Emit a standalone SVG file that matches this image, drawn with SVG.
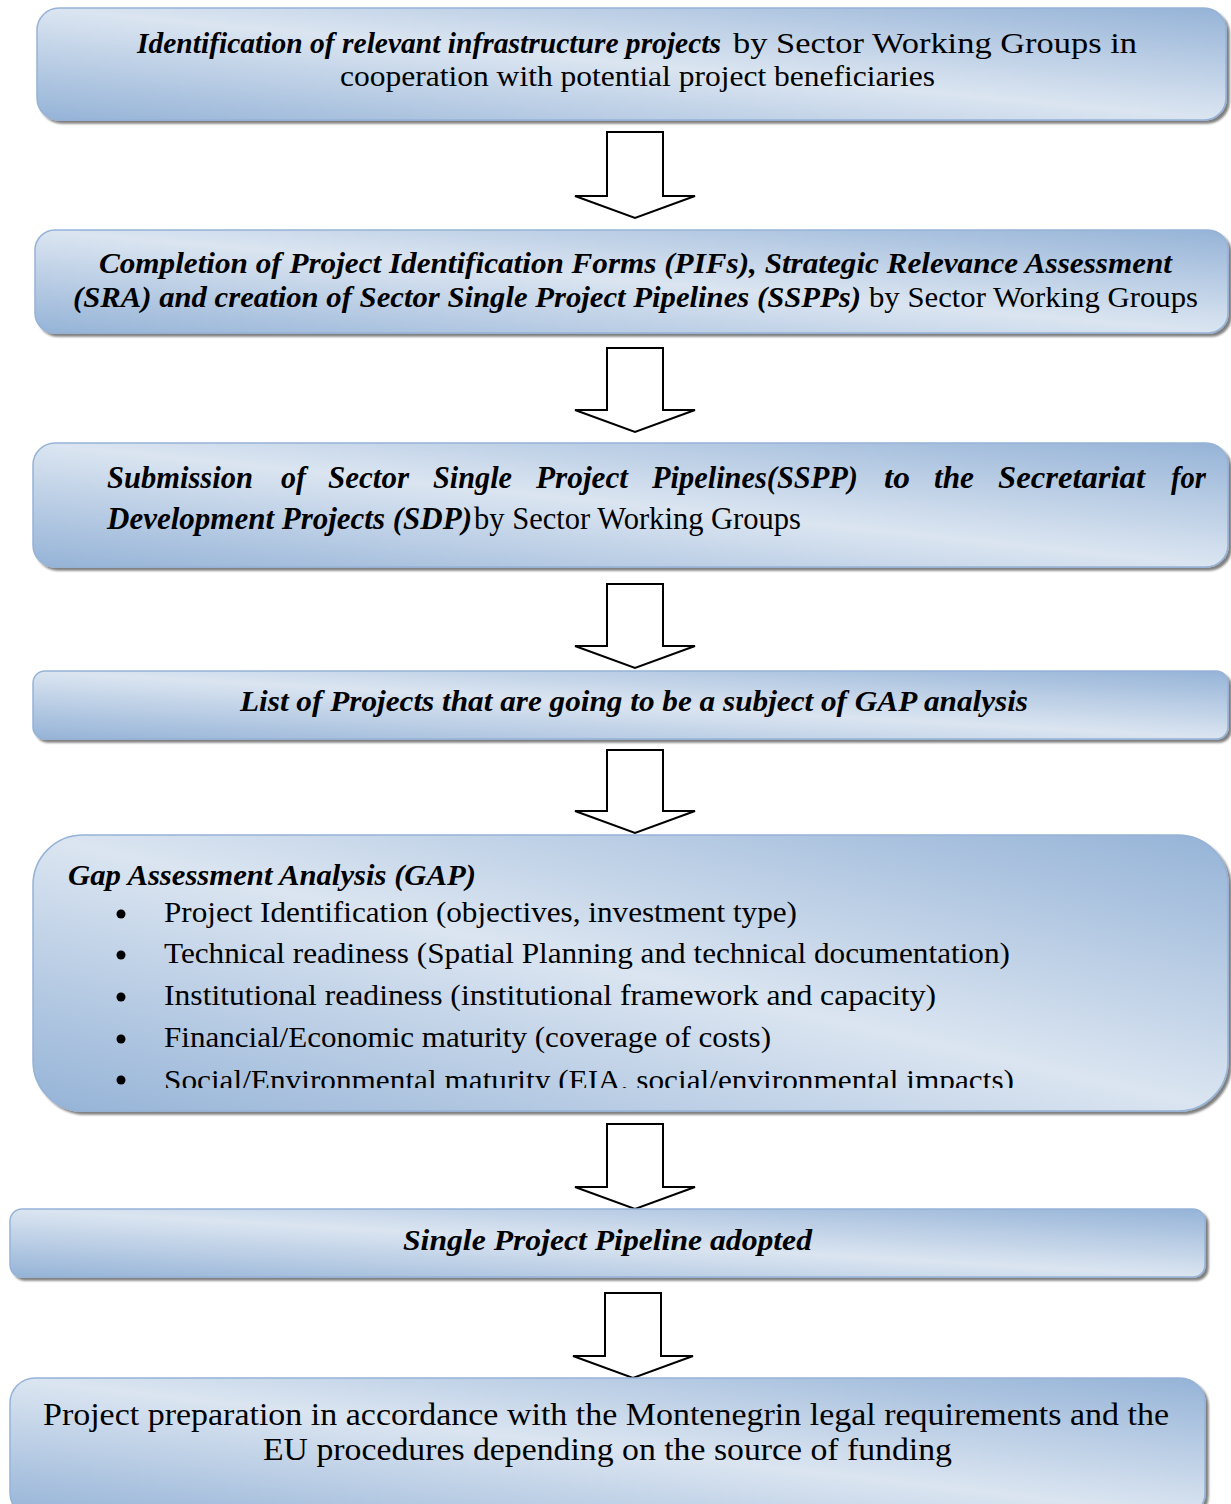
<svg xmlns="http://www.w3.org/2000/svg" width="1231" height="1504" viewBox="0 0 1231 1504">
<style>
.box{fill:url(#g);stroke:#95b3d7;stroke-width:1.5;filter:url(#sh)}
.arr{fill:#fff;stroke:#000;stroke-width:2;stroke-linejoin:miter}
text{font-family:"Liberation Serif","Times New Roman",serif;fill:#000}
.bi{font-weight:bold;font-style:italic}
</style>
<defs>
<linearGradient id="g" x1="0" y1="1" x2="1" y2="0">
<stop offset="0" stop-color="#95b3d7"/>
<stop offset="0.5" stop-color="#dbe5f1"/>
<stop offset="1" stop-color="#95b3d7"/>
</linearGradient>
<filter id="sh" x="-5%" y="-10%" width="110%" height="125%">
<feGaussianBlur in="SourceAlpha" stdDeviation="1.2"/>
<feOffset dx="3" dy="3" result="o"/>
<feComponentTransfer><feFuncA type="linear" slope="0.5"/></feComponentTransfer>
<feMerge><feMergeNode/><feMergeNode in="SourceGraphic"/></feMerge>
</filter>
<clipPath id="c5"><rect x="0" y="835" width="1231" height="253"/></clipPath>
</defs>

<g id="connectors">
<polygon class="arr" points="607,132 663,132 663,196 695,196 635,218 575,196 607,196"/>
<polygon class="arr" points="607,348 663,348 663,410 695,410 635,432 575,410 607,410"/>
<polygon class="arr" points="607,584 663,584 663,646 695,646 635,668 575,646 607,646"/>
<polygon class="arr" points="607,750 663,750 663,811 695,811 635,833 575,811 607,811"/>
<polygon class="arr" points="607,1124 663,1124 663,1187 695,1187 635,1209 575,1187 607,1187"/>
<polygon class="arr" points="605,1293 661,1293 661,1356 693,1356 633,1378 573,1356 605,1356"/>
</g>

<g id="n1">
<rect class="box" x="37" y="8" width="1189" height="112" rx="22"/>
<text x="137" y="53" font-size="30" class="bi" textLength="584" lengthAdjust="spacingAndGlyphs">Identification of relevant infrastructure projects</text>
<text x="733" y="53" font-size="30" textLength="404" lengthAdjust="spacingAndGlyphs">by Sector Working Groups in</text>
<text x="340" y="86" font-size="30" textLength="595" lengthAdjust="spacingAndGlyphs">cooperation with potential project beneficiaries</text>
</g>

<g id="n2">
<rect class="box" x="35" y="230" width="1193" height="103" rx="20"/>
<text x="99" y="273" font-size="30" class="bi" textLength="1073" lengthAdjust="spacingAndGlyphs">Completion of Project Identification Forms (PIFs), Strategic Relevance Assessment</text>
<text x="73" y="307" font-size="30" class="bi" textLength="788" lengthAdjust="spacingAndGlyphs">(SRA) and creation of Sector Single Project Pipelines (SSPPs)</text>
<text x="869" y="307" font-size="30" textLength="329" lengthAdjust="spacingAndGlyphs">by Sector Working Groups</text>
</g>

<g id="n3">
<rect class="box" x="33" y="443" width="1195" height="124" rx="22"/>
<g class="bi" font-size="31">
<text x="107" y="488" textLength="146" lengthAdjust="spacingAndGlyphs">Submission</text>
<text x="281" y="488" textLength="25" lengthAdjust="spacingAndGlyphs">of</text>
<text x="328" y="488" textLength="81" lengthAdjust="spacingAndGlyphs">Sector</text>
<text x="433" y="488" textLength="79" lengthAdjust="spacingAndGlyphs">Single</text>
<text x="536" y="488" textLength="92" lengthAdjust="spacingAndGlyphs">Project</text>
<text x="652" y="488" textLength="206" lengthAdjust="spacingAndGlyphs">Pipelines(SSPP)</text>
<text x="884" y="488" textLength="26" lengthAdjust="spacingAndGlyphs">to</text>
<text x="934" y="488" textLength="40" lengthAdjust="spacingAndGlyphs">the</text>
<text x="998" y="488" textLength="147" lengthAdjust="spacingAndGlyphs">Secretariat</text>
<text x="1171" y="488" textLength="35" lengthAdjust="spacingAndGlyphs">for</text>
<text x="107" y="529" textLength="365" lengthAdjust="spacingAndGlyphs">Development Projects (SDP)</text>
</g>
<text x="474" y="529" font-size="31" textLength="327" lengthAdjust="spacingAndGlyphs">by Sector Working Groups</text>
</g>

<g id="n4">
<rect class="box" x="33" y="671" width="1195" height="68" rx="12"/>
<text x="240" y="711" font-size="30" class="bi" textLength="788" lengthAdjust="spacingAndGlyphs">List of Projects that are going to be a subject of GAP analysis</text>
</g>

<g id="n5">
<rect class="box" x="33" y="835" width="1195" height="276" rx="50"/>
<text x="68" y="885" font-size="30" class="bi" textLength="408" lengthAdjust="spacingAndGlyphs">Gap Assessment Analysis (GAP)</text>
<g font-size="30" clip-path="url(#c5)">
<circle cx="121" cy="914" r="4.5"/>
<text x="164" y="922" textLength="633" lengthAdjust="spacingAndGlyphs">Project Identification (objectives, investment type)</text>
<circle cx="121" cy="955" r="4.5"/>
<text x="164" y="963" textLength="846" lengthAdjust="spacingAndGlyphs">Technical readiness (Spatial Planning and technical documentation)</text>
<circle cx="121" cy="997" r="4.5"/>
<text x="164" y="1005" textLength="772" lengthAdjust="spacingAndGlyphs">Institutional readiness (institutional framework and capacity)</text>
<circle cx="121" cy="1039" r="4.5"/>
<text x="164" y="1047" textLength="607" lengthAdjust="spacingAndGlyphs">Financial/Economic maturity (coverage of costs)</text>
<circle cx="121" cy="1080" r="4.5"/>
<text x="164" y="1090" textLength="850" lengthAdjust="spacingAndGlyphs">Social/Environmental maturity (EIA, social/environmental impacts)</text>
</g>
</g>

<g id="n6">
<rect class="box" x="10" y="1209" width="1195" height="68" rx="12"/>
<text x="403" y="1250" font-size="30" class="bi" textLength="409" lengthAdjust="spacingAndGlyphs">Single Project Pipeline adopted</text>
</g>

<g id="n7">
<rect class="box" x="10" y="1378" width="1195" height="140" rx="25"/>
<text x="43" y="1425" font-size="32" textLength="1126" lengthAdjust="spacingAndGlyphs">Project preparation in accordance with the Montenegrin legal requirements and the</text>
<text x="263" y="1460" font-size="32" textLength="689" lengthAdjust="spacingAndGlyphs">EU procedures depending on the source of funding</text>
</g>
</svg>
